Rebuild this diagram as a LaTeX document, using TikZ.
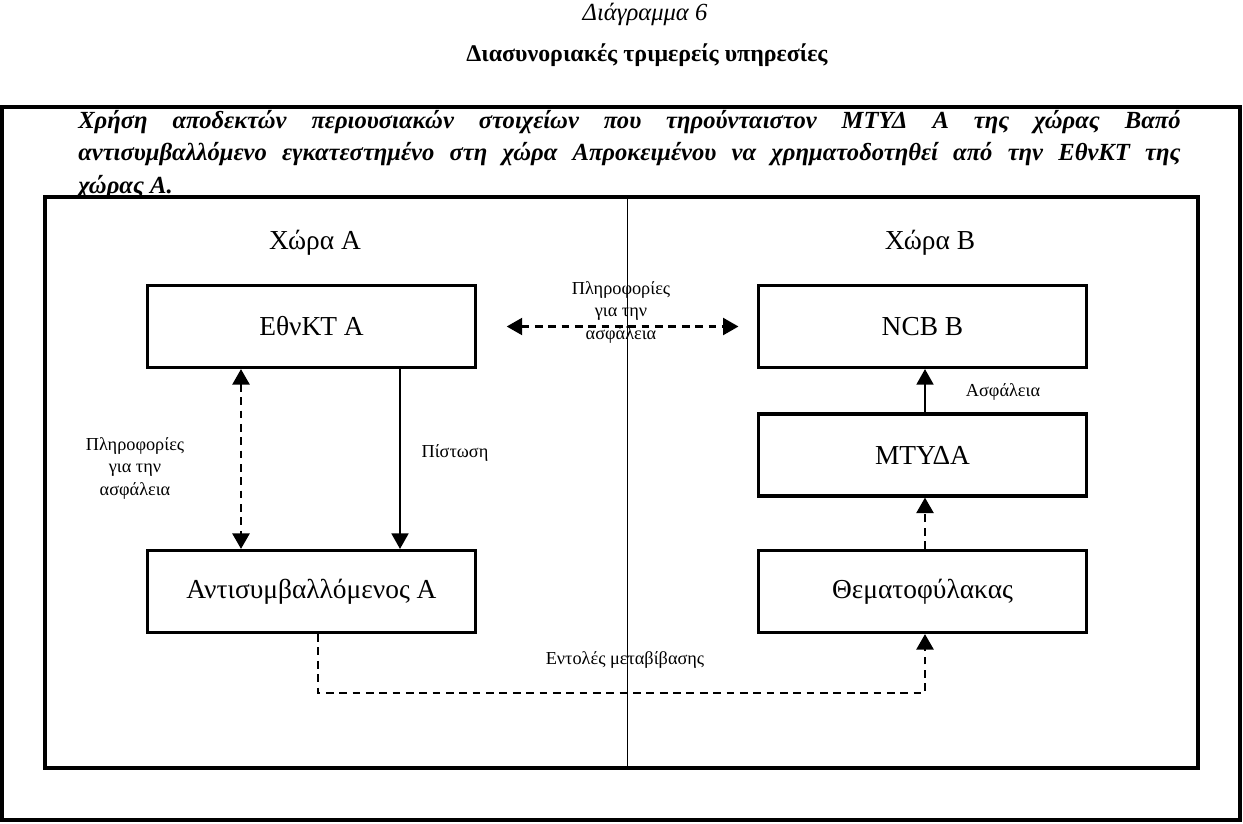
\documentclass[tikz,border=0pt]{standalone}
\usepackage{fontspec}
\setmainfont{Liberation Serif}
\usepackage{tikz}
\usetikzlibrary{arrows.meta,positioning,calc}
\tikzset{
  frame/.style={draw,line width=2.2pt},
  box/.style={draw,line width=2.2pt,minimum width=8.18cm,minimum height=2.05cm,
    font=\fontsize{19.5}{22}\selectfont},
  note/.style={align=center,font=\fontsize{13}{16}\selectfont},
  arrow/.style={-{Triangle[length=11pt,width=12pt]},line width=1.4pt},
  dasharrow/.style={arrow,line width=1.9pt,dash pattern=on 5.5pt off 4pt}
}

\begin{document}
\begin{tikzpicture}[x=0.025cm,y=-0.025cm]
  \useasboundingbox (0,0) rectangle (1243,823);
  % titles
  \node[font=\itshape\fontsize{17.5}{20}\selectfont] (t1) at (645,14) {Διάγραμμα 6};
  \node[font=\bfseries\fontsize{17}{20}\selectfont] (t2) at (647,55) {Διασυνοριακές τριμερείς υπηρεσίες};
  % frames
  \draw[frame] (2,107) rectangle (1240,820);
  \draw[frame] (45,197) rectangle (1198,768);
  \draw[line width=0.7pt] (627,197) -- (627,768);
  \node[anchor=north west,inner sep=0pt,text width=27.55cm,align=justify,
    font=\bfseries\itshape\fontsize{17.5}{23}\selectfont] (head) at (78,110)
    {Χρήση αποδεκτών περιουσιακών στοιχείων που τηρούνταιστον ΜΤΥΔ Α της χώρας Βαπό\linebreak
     αντισυμβαλλόμενο εγκατεστημένο στη χώρα Απροκειμένου να χρηματοδοτηθεί από την ΕθνΚΤ της\linebreak
     χώρας Α.};
  % countries
  \node[font=\fontsize{19.5}{22}\selectfont] (ca) at (315,243) {Χώρα Α};
  \node[font=\fontsize{19.5}{22}\selectfont] (cb) at (930,243) {Χώρα Β};
  % boxes
  \node[box] (eth) at (311.5,326.5) {ΕθνΚΤ Α};
  \node[box] (ncb) at (922.5,326.5) {NCB B};
  \node[box] (mtyda) at (922.5,455) {ΜΤΥΔΑ};
  \node[box] (ant) at (311.5,591.5) {Αντισυμβαλλόμενος Α};
  \node[box] (them) at (922.5,591.5) {Θεματοφύλακας};
  % connectors
  \draw[dasharrow,{Triangle[length=11pt,width=12pt]}-{Triangle[length=11pt,width=12pt]},
    shorten <=0.75cm,shorten >=0.47cm] (eth.east) -- (ncb.west);
  \draw[dasharrow,{Triangle[length=11pt,width=12pt]}-{Triangle[length=11pt,width=12pt]}]
    ($(eth.south)+(-70.5,0)$) -- ($(ant.north)+(-70.5,0)$);
  \draw[arrow] ($(eth.south)+(88.5,0)$) -- ($(ant.north)+(88.5,0)$);
  \draw[arrow] ($(mtyda.north)+(2.5,0)$) -- ($(ncb.south)+(2.5,0)$);
  \draw[dasharrow] ($(them.north)+(2.5,0)$) -- ($(mtyda.south)+(2.5,0)$);
  \draw[dasharrow] ($(ant.south)+(6.5,0)$) -- ++(0,59) -| ($(them.south)+(2.5,0)$);
  % labels
  \node[note] (l1) at (621,312) {Πληροφορίες\\για την\\ασφάλεια};
  \node[note] (l2) at (135,468) {Πληροφορίες\\για την\\ασφάλεια};
  \node[note] (l3) at (455,453) {Πίστωση};
  \node[note] (l4) at (1003,392) {Ασφάλεια};
  \node[note] (l5) at (625,660) {Εντολές μεταβίβασης};
\end{tikzpicture}
\end{document}
